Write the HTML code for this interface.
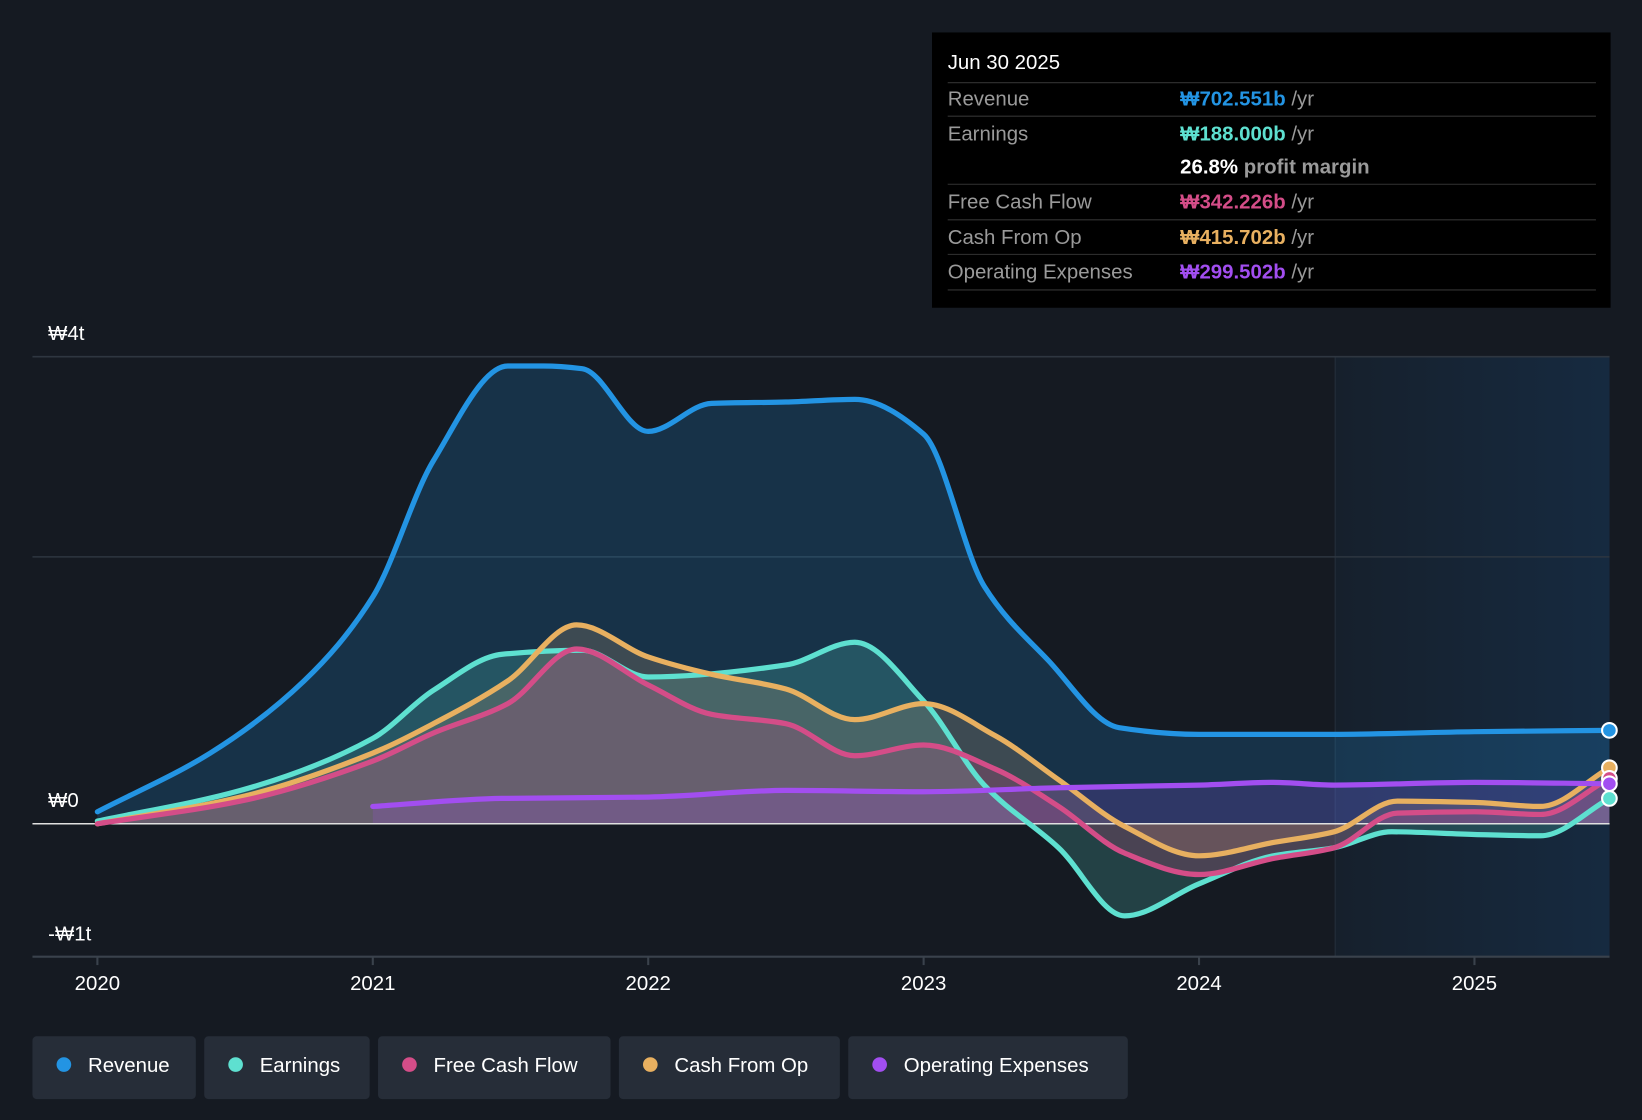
<!DOCTYPE html>
<html><head><meta charset="utf-8"><style>
html,body{margin:0;padding:0;background:#151a22;}
svg{display:block;font-family:"Liberation Sans","Noto Sans CJK KR",sans-serif;}
</style></head><body>
<svg id="chart" width="1642" height="1120" viewBox="0 0 1568 1070" preserveAspectRatio="none" xmlns="http://www.w3.org/2000/svg">
<rect x="0" y="0" width="1568" height="1070" fill="#151a22"/>
<defs>
<linearGradient id="fc" x1="0" x2="1" y1="0" y2="0"><stop offset="0" stop-color="#16202c"/><stop offset="1" stop-color="#162a40"/></linearGradient>
</defs>
<rect x="1275" y="341" width="262" height="573" fill="url(#fc)"/>
<line x1="1275" y1="341" x2="1275" y2="914" stroke="#24303c"/>
<g id="grid"></g>
<g id="fills"></g>
<g id="lines"></g>
<g id="axis"></g>
<g>
<rect x="890" y="31" width="648" height="263" fill="#000"/>
<text x="905" y="66" fill="#fff" font-size="19.5">Jun 30 2025</text>
<line x1="905" y1="79" x2="1524" y2="79" stroke="#333"/>
<text x="905" y="101" fill="#9a9a9a" font-size="19.5">Revenue</text>
<text x="1127" y="101" font-size="19.5" font-weight="bold" fill="#2394e3">₩702.551b <tspan fill="#9a9a9a" font-weight="normal">/yr</tspan></text>
<line x1="905" y1="111" x2="1524" y2="111" stroke="#333"/>
<text x="905" y="134" fill="#9a9a9a" font-size="19.5">Earnings</text>
<text x="1127" y="134" font-size="19.5" font-weight="bold" fill="#5ee0d0">₩188.000b <tspan fill="#9a9a9a" font-weight="normal">/yr</tspan></text>
<text x="1127" y="166" font-size="19.5" font-weight="bold" fill="#fff">26.8% <tspan fill="#9a9a9a">profit margin</tspan></text>
<line x1="905" y1="176" x2="1524" y2="176" stroke="#333"/>
<text x="905" y="199" fill="#9a9a9a" font-size="19.5">Free Cash Flow</text>
<text x="1127" y="199" font-size="19.5" font-weight="bold" fill="#d44d88">₩342.226b <tspan fill="#9a9a9a" font-weight="normal">/yr</tspan></text>
<line x1="905" y1="210" x2="1524" y2="210" stroke="#333"/>
<text x="905" y="233" fill="#9a9a9a" font-size="19.5">Cash From Op</text>
<text x="1127" y="233" font-size="19.5" font-weight="bold" fill="#e8b060">₩415.702b <tspan fill="#9a9a9a" font-weight="normal">/yr</tspan></text>
<line x1="905" y1="243" x2="1524" y2="243" stroke="#333"/>
<text x="905" y="266" fill="#9a9a9a" font-size="19.5">Operating Expenses</text>
<text x="1127" y="266" font-size="19.5" font-weight="bold" fill="#a24ef0">₩299.502b <tspan fill="#9a9a9a" font-weight="normal">/yr</tspan></text>
<line x1="905" y1="277" x2="1524" y2="277" stroke="#333"/>
</g>
<g id="legend"></g>
</svg>
<script>
const xTicks=[2020,2021,2022,2023,2024,2025];
const yTickVals=[3.5,0,-1];
const yTickLabels=["₩4t","₩0","-₩1t"];
const gridVals=[3.5,2];
const revX=[2020,2020.41,2020.75,2021,2021.22,2021.49,2021.62,2021.76,2022,2022.23,2022.5,2022.75,2023,2023.22,2023.45,2023.71,2024,2024.49,2025,2025.49];
const revY=[0.09,0.53,1.07,1.70,2.72,3.43,3.43,3.41,2.94,3.15,3.16,3.18,2.92,1.78,1.23,0.72,0.67,0.67,0.69,0.70];
const earnX=[2020,2020.52,2021,2021.22,2021.47,2021.76,2022,2022.5,2022.75,2023,2023.22,2023.49,2023.73,2024,2024.27,2024.49,2024.7,2025,2025.24,2025.49];
const earnY=[0.02,0.25,0.64,1.00,1.27,1.30,1.10,1.19,1.36,0.92,0.29,-0.18,-0.69,-0.45,-0.24,-0.18,-0.06,-0.08,-0.09,0.19];
const cfX=[2020,2020.52,2021,2021.22,2021.49,2021.74,2022,2022.23,2022.5,2022.75,2023,2023.26,2023.49,2023.73,2024,2024.27,2024.49,2024.72,2025,2025.24,2025.49];
const fcfY=[0,0.17,0.47,0.68,0.90,1.31,1.04,0.82,0.75,0.51,0.59,0.41,0.13,-0.22,-0.38,-0.26,-0.18,0.08,0.09,0.07,0.34];
const cfoY=[0,0.20,0.53,0.75,1.07,1.49,1.25,1.12,1.01,0.78,0.90,0.66,0.33,-0.02,-0.24,-0.14,-0.06,0.17,0.16,0.13,0.42];
const opxX=[2021,2021.47,2022,2022.5,2023,2023.49,2024,2024.27,2024.49,2025,2025.49];
const opxY=[0.13,0.19,0.20,0.25,0.24,0.27,0.29,0.31,0.29,0.31,0.30];
const legendNames=["Revenue","Earnings","Free Cash Flow","Cash From Op","Operating Expenses"];

const NS="http://www.w3.org/2000/svg";
const X=yr=>93+(yr-2020)*263;
const Y=v=>787-v*127.5;
function mk(tag,attrs,parent){const e=document.createElementNS(NS,tag);for(const k in attrs)e.setAttribute(k,attrs[k]);parent.appendChild(e);return e;}
function pathD(xs,ys){
  const px=xs.map(X),py=ys.map(Y),n=px.length;
  const d=[],m=new Array(n);
  for(let i=0;i<n-1;i++)d.push((py[i+1]-py[i])/(px[i+1]-px[i]));
  m[0]=d[0];m[n-1]=d[n-2];
  for(let i=1;i<n-1;i++){
    if(d[i-1]*d[i]<=0)m[i]=0;
    else{const w1=2*(px[i+1]-px[i])+(px[i]-px[i-1]),w2=(px[i+1]-px[i])+2*(px[i]-px[i-1]);m[i]=(w1+w2)/(w1/d[i-1]+w2/d[i]);}
  }
  let s="M"+px[0]+","+py[0];
  for(let i=0;i<n-1;i++){
    const h=(px[i+1]-px[i])/3;
    s+=" C"+(px[i]+h)+","+(py[i]+m[i]*h)+" "+(px[i+1]-h)+","+(py[i+1]-m[i+1]*h)+" "+px[i+1]+","+py[i+1];
  }
  return s;
}
const grid=document.getElementById('grid'),fills=document.getElementById('fills'),lines=document.getElementById('lines'),axis=document.getElementById('axis'),legend=document.getElementById('legend');
gridVals.forEach(v=>{
  const l=mk('line',{x1:31,x2:1537,y1:Y(v),y2:Y(v),stroke:'#2e3640','stroke-width':1.5},grid);
  
  
});
yTickVals.forEach((v,i)=>{
  const t=mk('text',{x:46,y:Y(v)-16,fill:'#fff','font-size':19.5},axis);
  t.textContent=yTickLabels[i];
  
  
});
const series=[
 {n:'revenue',xs:revX,ys:revY,c:'#2394e3',f:'rgba(35,148,227,0.2)'},
 {n:'earnings',xs:earnX,ys:earnY,c:'#5ee0d0',f:'rgba(94,224,208,0.2)'},
 {n:'cash-from-op',xs:cfX,ys:cfoY,c:'#e8b060',f:'rgba(200,160,120,0.22)'},
 {n:'free-cash-flow',xs:cfX,ys:fcfY,c:'#d44d88',f:'rgba(212,77,136,0.22)'},
 {n:'operating-expenses',xs:opxX,ys:opxY,c:'#a24ef0',f:'rgba(162,78,240,0.18)'}
];
series.forEach(s=>{
  const d=pathD(s.xs,s.ys);
  const fd=d+" L"+X(s.xs[s.xs.length-1])+","+Y(0)+" L"+X(s.xs[0])+","+Y(0)+" Z";
  const f=mk('path',{d:fd,fill:s.f},fills);
  
  
});
const zl=mk('line',{x1:31,x2:1537,y1:Y(0),y2:Y(0),stroke:'#e0e0e0','stroke-width':1.5},lines);


series.forEach(s=>{
  const l=mk('path',{d:pathD(s.xs,s.ys),fill:'none',stroke:s.c,'stroke-width':5,'stroke-linecap':'round'},lines);
  
  
});
series.forEach(s=>{
  const i=s.xs.length-1;
  const c=mk('circle',{cx:X(s.xs[i]),cy:Y(s.ys[i]),r:7,fill:s.c,stroke:'#fff','stroke-width':2},lines);
  
  
});
const ax=mk('line',{x1:31,x2:1537,y1:914,y2:914,stroke:'#3a424c','stroke-width':2},axis);


xTicks.forEach(yr=>{
  const tk=mk('line',{x1:X(yr),x2:X(yr),y1:914,y2:922,stroke:'#3a424c','stroke-width':2},axis);
  
  
  const t=mk('text',{x:X(yr),y:946,fill:'#fff','font-size':19.5,'text-anchor':'middle'},axis);
  t.textContent=String(yr);
  
  
});
const lx=[31,195,361,591,810],lw=[156,158,222,211,267];
const legendColors=['#2394e3','#5ee0d0','#d44d88','#e8b060','#a24ef0'];
legendNames.forEach((n,i)=>{
  const g=mk('g',{},legend);
  
  
  mk('rect',{x:lx[i],y:990,width:lw[i],height:60,rx:4,fill:'#262d38'},g);
  mk('circle',{cx:lx[i]+30,cy:1017,r:7,fill:legendColors[i]},g);
  const t=mk('text',{x:lx[i]+53,y:1024,fill:'#fff','font-size':19.5},g);
  t.textContent=n;
});
</script>
</body></html>
